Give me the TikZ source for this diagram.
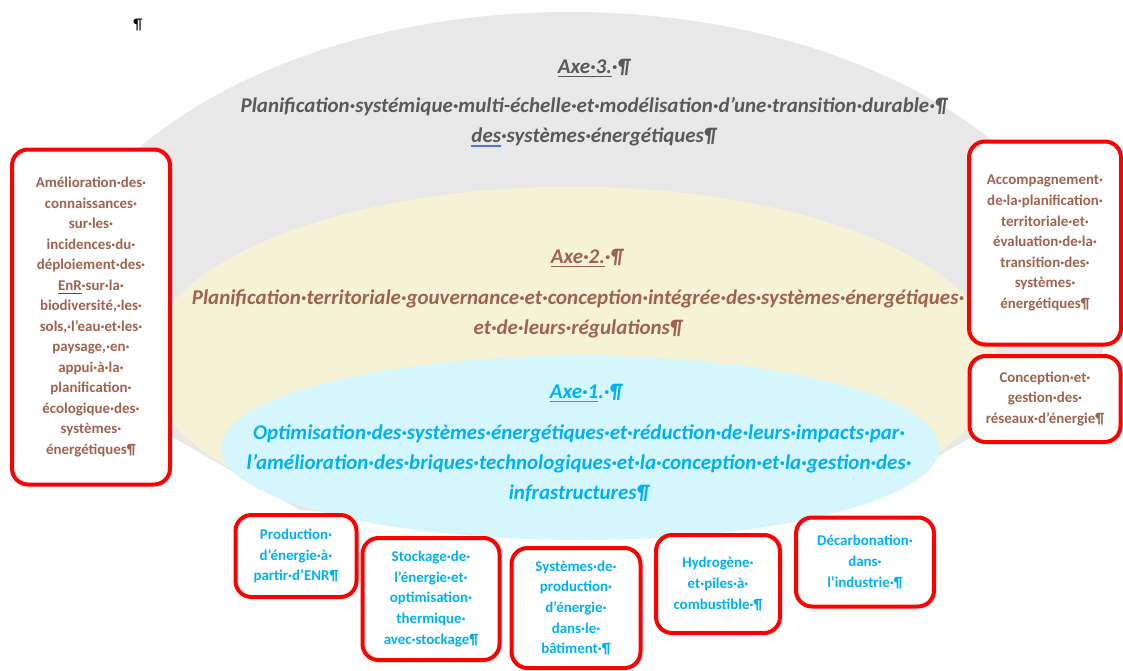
\documentclass[tikz,border=0pt]{standalone}
\usepackage{fontspec}
\setmainfont{Carlito}
\usepackage{tikz}
\usetikzlibrary{positioning}

\definecolor{grisfond}{RGB}{232,232,232}
\definecolor{jaunefond}{RGB}{245,242,214}
\definecolor{jaunepale}{RGB}{252,250,226}
\definecolor{cyanfond}{RGB}{212,246,252}
\definecolor{grisaxe}{RGB}{89,89,89}
\definecolor{brunaxe}{RGB}{158,98,78}
\definecolor{bleuaxe}{RGB}{0,176,240}
\definecolor{rougecadre}{RGB}{255,0,0}
\definecolor{bleusouligne}{RGB}{80,120,220}

\newcommand{\px}{0.025cm}
% soulignement en couleur (marques de correction)
\newcommand{\souscouleur}[2]{\setbox0\hbox{#2}\rlap{\textcolor{#1}{\rule[-3pt]{\wd0}{1.3pt}}}#2}

\begin{document}
\begin{tikzpicture}[x=\px, y=-\px,
  axe/.style={align=center, font=\fontsize{14.9}{21.3}\selectfont\bfseries\itshape},
  cadre/.style={draw=rougecadre, line width=4*\px, rounded corners=0.4cm, fill=white,
    align=center, inner sep=0pt, font=\fontsize{10.6}{14.6}\selectfont\bfseries},
  cadrebrun/.style={cadre, text=brunaxe},
  cadrebleu/.style={cadre, text=bleuaxe}]
\useasboundingbox (0,0) rectangle (1123,670);

% les trois axes
\begin{scope}
\clip (0,0) -- (1123,0) -- (1123,340) -- (984,430) -- (845,510) -- (572,530)
  -- (300,510) -- (160,430) -- (0,330) -- cycle;
\fill[grisfond] (570,342) ellipse [x radius=533, y radius=330];
\end{scope}
\fill[jaunepale] (572,363) ellipse [x radius=425, y radius=176];
\begin{scope}
\clip (0,0) -- (1123,0) -- (1123,340) -- (984,430) -- (845,510) -- (572,530)
  -- (300,510) -- (160,430) -- (0,330) -- cycle;
\fill[jaunefond] (572,363) ellipse [x radius=425, y radius=176];
\end{scope}
\fill[cyanfond] (580,448) ellipse [x radius=359, y radius=92];

\node[font=\fontsize{11}{13}\selectfont] (P) at (138,25) {¶};

\node[axe, text=grisaxe] (T3) at (594,68) {\underline{Axe·3.}·¶};
\node[axe, text=grisaxe] (A3) at (594,122)
  {Planification·systémique·multi-échelle·et·modélisation·d’une·transition·durable·¶\\
   \souscouleur{bleusouligne}{des}·systèmes·énergétiques¶};

\node[axe, text=brunaxe] (T2) at (587,258) {\underline{Axe·2.}·¶};
\node[axe, text=brunaxe] (A2) at (578,314)
  {Planification·territoriale·gouvernance·et·conception·intégrée·des·systèmes·énergétiques·\\
   et·de·leurs·régulations¶};

\node[axe, text=bleuaxe] (T1) at (586,393) {\underline{Axe·1}.·¶};
\node[axe, text=bleuaxe] (A1) at (579,463)
  {Optimisation·des·systèmes·énergétiques·et·réduction·de·leurs·impacts·par·\\
   l’amélioration·des·briques·technologiques·et·la·conception·et·la·gestion·des·\\
   infrastructures¶};

% thèmes transverses
\node[cadrebrun, minimum width=158*\px, minimum height=335*\px] (L) at (91,317)
  {Amélioration·des·\\connaissances·\\sur·les·\\incidences·du·\\déploiement·des·\\
   \souscouleur{red}{EnR}·sur·la·\\biodiversité,·les·\\sols,·l’eau·et·les·\\paysage,·en·\\
   appui·à·la·\\planification·\\écologique·des·\\systèmes·\\énergétiques¶};
\node[cadrebrun, minimum width=152*\px, minimum height=203*\px] (R1) at (1045,243)
  {Accompagnement·\\de·la·planification·\\territoriale·et·\\évaluation·de·la·\\
   transition·des·\\systèmes·\\énergétiques¶};
\node[cadrebrun, minimum width=151*\px, minimum height=86*\px] (R2) at (1045,399)
  {Conception·et·\\gestion·des·\\réseaux·d’énergie¶};

% briques de l'axe 1
\node[cadrebleu, minimum width=121*\px, minimum height=82*\px] (B1) at (296,556)
  {Production·\\d’énergie·à·\\partir·d’ENR¶};
\node[cadrebleu, minimum width=137*\px, minimum height=122*\px] (B2) at (431,599)
  {Stockage·de·\\l’énergie·et·\\optimisation·\\thermique·\\avec·stockage¶};
\node[cadrebleu, minimum width=129*\px, minimum height=120*\px] (B3) at (576,608)
  {Systèmes·de·\\production·\\d’énergie·\\dans·le·\\bâtiment·¶};
\node[cadrebleu, minimum width=124*\px, minimum height=98*\px] (B4) at (718,584)
  {Hydrogène·\\et·piles·à·\\combustible·¶};
\node[cadrebleu, minimum width=138*\px, minimum height=89*\px] (B5) at (865,562)
  {Décarbonation·\\dans·\\l’industrie·¶};
%
\end{tikzpicture}
\end{document}
